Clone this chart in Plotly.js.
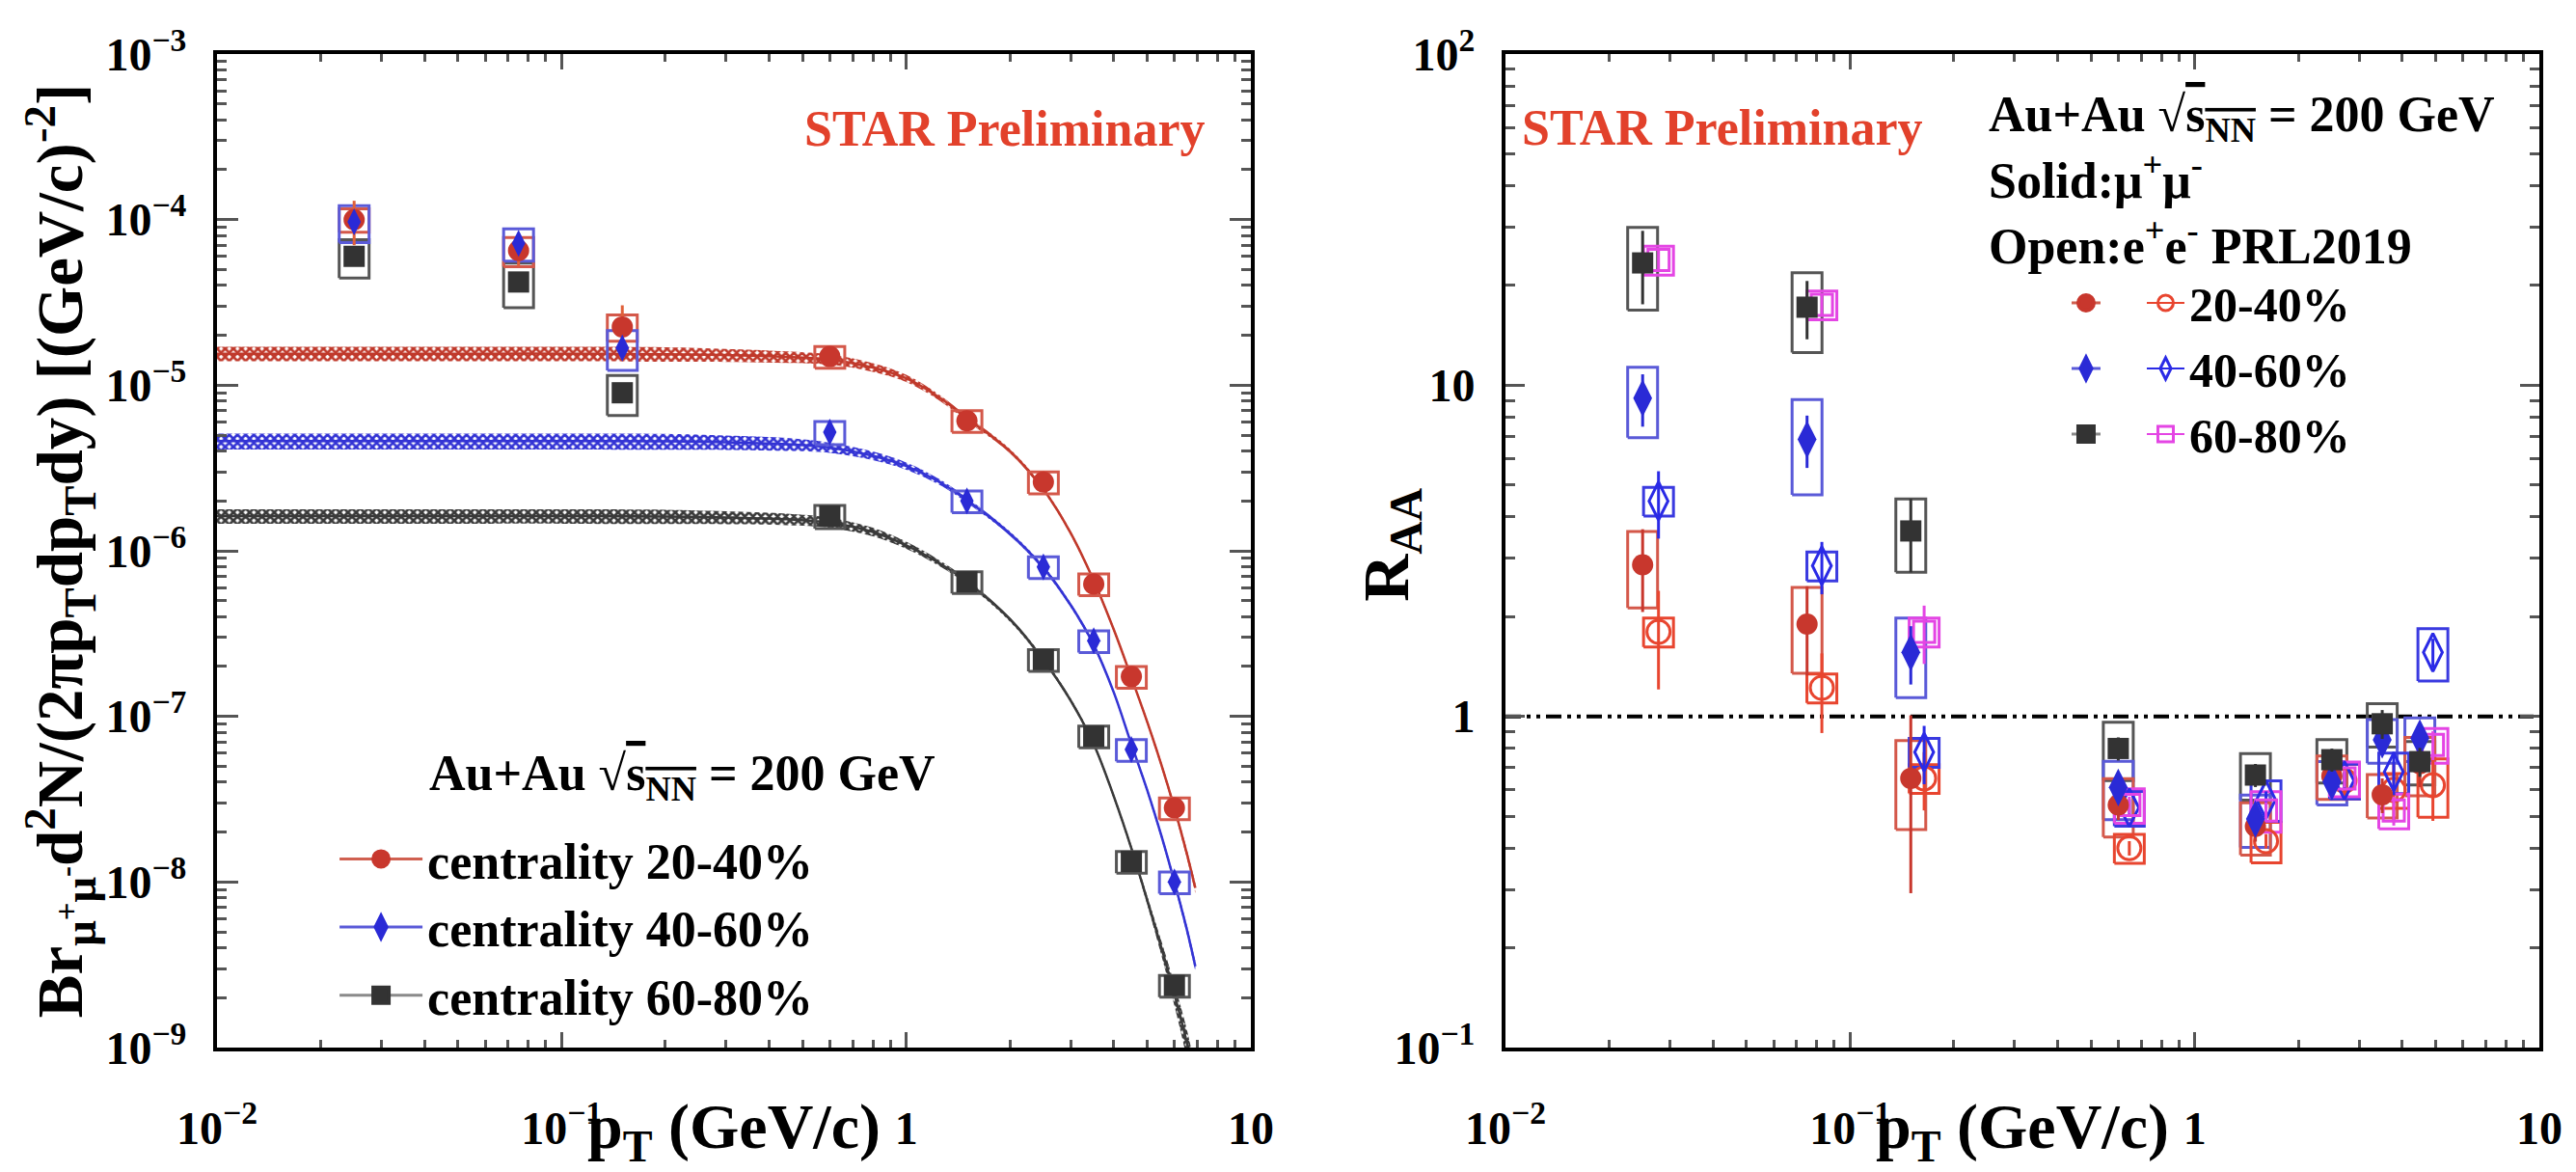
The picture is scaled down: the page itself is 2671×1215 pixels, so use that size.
<!DOCTYPE html>
<html><head><meta charset="utf-8">
<script src="https://cdn.plot.ly/plotly-3.0.1.min.js"></script>
<style>html,body{margin:0;padding:0;background:#fff}</style>
</head><body><div id="chart" style="width:2671px;height:1215px"></div>
<script>
// ---------------- Left panel: invariant yields ----------------
const ptSpec = [0.025, 0.075, 0.15, 0.6, 1.5, 2.5, 3.5, 4.5, 6.0];
const spec2040 = [1.0e-4, 6.5e-5, 2.25e-5, 1.49e-5, 6.1e-6, 2.6e-6, 6.3e-7, 1.74e-7, 2.8e-8];
const spec4060 = [9.7e-5, 7.2e-5, 1.68e-5, 5.2e-6, 2.0e-6, 8.0e-7, 2.86e-7, 6.3e-8, 1.0e-8];
const spec6080 = [6.0e-5, 4.2e-5, 9.0e-6, 1.62e-6, 6.5e-7, 2.2e-7, 7.6e-8, 1.33e-8, 2.37e-9];
const specStat2040 = [0.30, 0.20, 0.35, 0.05, 0.05, 0.05, 0.06, 0.06, 0.08];
const specStat4060 = [0.10, 0.10, 0.12, 0.06, 0.05, 0.05, 0.06, 0.06, 0.08];
const specStat6080 = [0.08, 0.08, 0.10, 0.05, 0.05, 0.05, 0.06, 0.06, 0.08];
const specSys2040 = [0.16, 0.20, 0.18, 0.15, 0.15, 0.15, 0.15, 0.15, 0.15];
const specSys4060 = [0.25, 0.22, 0.27, 0.16, 0.15, 0.15, 0.15, 0.15, 0.15];
const specSys6080 = [0.26, 0.30, 0.27, 0.16, 0.15, 0.15, 0.15, 0.15, 0.15];

// fit curves
const fitPt   = [0.01, 0.05, 0.1, 0.2, 0.3, 0.45, 0.6, 0.8, 1.0, 1.25, 1.5, 2.0, 2.5, 3.0, 3.5, 4.0, 4.5, 5.0, 5.5, 6.0, 6.5, 6.9];
const fit2040 = [1.55e-5, 1.55e-5, 1.55e-5, 1.54e-5, 1.52e-5, 1.48e-5, 1.43e-5, 1.28e-5, 1.1e-5, 8.4e-6, 6.3e-6, 4.0e-6, 2.35e-6, 1.28e-6, 6.6e-7, 3.35e-7, 1.72e-7, 9.3e-8, 5.1e-8, 2.8e-8, 1.52e-8, 9.2e-9];
const fit4060 = [4.6e-6, 4.6e-6, 4.6e-6, 4.58e-6, 4.52e-6, 4.4e-6, 4.2e-6, 3.75e-6, 3.25e-6, 2.6e-6, 2.02e-6, 1.27e-6, 7.9e-7, 4.7e-7, 2.7e-7, 1.4e-7, 6.8e-8, 3.6e-8, 1.9e-8, 1.0e-8, 5.3e-9, 3.1e-9];
const fit6080 = [1.62e-6, 1.62e-6, 1.62e-6, 1.61e-6, 1.59e-6, 1.55e-6, 1.48e-6, 1.3e-6, 1.08e-6, 8.4e-7, 6.5e-7, 3.85e-7, 2.2e-7, 1.25e-7, 6.8e-8, 3.3e-8, 1.6e-8, 7.8e-9, 4.0e-9, 2.1e-9, 1.1e-9, 6.0e-10];
const band2040 = [0.10, 0.10, 0.10, 0.10, 0.09, 0.08, 0.07, 0.06, 0.05, 0.04, 0.035, 0.03, 0.03, 0.03, 0.03, 0.03, 0.03, 0.035, 0.04, 0.05, 0.06, 0.07];
const band4060 = [0.11, 0.11, 0.11, 0.11, 0.10, 0.09, 0.07, 0.06, 0.05, 0.04, 0.035, 0.03, 0.03, 0.03, 0.03, 0.03, 0.03, 0.035, 0.04, 0.05, 0.06, 0.07];
const band6080 = [0.10, 0.10, 0.10, 0.10, 0.09, 0.08, 0.07, 0.06, 0.05, 0.04, 0.035, 0.03, 0.03, 0.03, 0.03, 0.035, 0.04, 0.06, 0.10, 0.15, 0.20, 0.25];

// ---------------- Right panel: R_AA ----------------
const ptRaa = [0.025, 0.075, 0.15, 0.6, 1.5, 2.5, 3.5, 4.5];
const raa2040 = [2.87, 1.90, 0.65, 0.54, 0.465, 0.66, 0.58, 0.72];
const raa4060 = [9.14, 6.86, 1.56, 0.61, 0.49, 0.635, 0.85, 0.86];
const raa6080 = [23.4, 17.2, 3.63, 0.80, 0.665, 0.74, 0.95, 0.73];
const raaStat2040 = [0.28, 0.30, 0.55, 0.10, 0.10, 0.10, 0.12, 0.15];
const raaStat4060 = [0.18, 0.18, 0.20, 0.08, 0.08, 0.08, 0.10, 0.10];
const raaStat6080 = [0.25, 0.20, 0.25, 0.08, 0.08, 0.08, 0.10, 0.10];
const raaSys2040 = [0.26, 0.29, 0.30, 0.20, 0.18, 0.15, 0.15, 0.20];
const raaSys4060 = [0.24, 0.32, 0.27, 0.20, 0.18, 0.15, 0.15, 0.15];
const raaSys6080 = [0.28, 0.27, 0.25, 0.20, 0.16, 0.15, 0.15, 0.15];

const ptEE = [0.0278, 0.0828, 0.164, 0.646, 1.61, 2.72, 3.78, 4.91];
const ee2040 = [1.80, 1.22, 0.65, 0.40, 0.42, 0.64, 0.60, 0.62];
const ee4060 = [4.47, 2.85, 0.78, 0.53, 0.56, 0.64, 0.68, 1.56];
const ee6080 = [23.9, 17.5, 1.80, 0.54, 0.52, 0.65, 0.52, 0.82];
const eeStat2040 = [0.33, 0.27, 0.20, 0.05, 0.05, 0.10, 0.20, 0.22];
const eeStat4060 = [0.23, 0.18, 0.20, 0.06, 0.06, 0.06, 0.15, 0.10];
const eeStat6080 = [0.08, 0.08, 0.20, 0.06, 0.06, 0.06, 0.10, 0.10];
const eeSys2040 = [0.10, 0.10, 0.10, 0.10, 0.14, 0.12, 0.12, 0.20];
const eeSys4060 = [0.10, 0.10, 0.10, 0.12, 0.14, 0.12, 0.14, 0.18];
const eeSys6080 = [0.10, 0.10, 0.10, 0.12, 0.14, 0.12, 0.12, 0.12];

const unityX = [0.01, 10];
const unityY = [1, 1];

const xTickVals = [0.01, 0.1, 1, 10];
const xTickText = ['10<sup>\u22122</sup>', '10<sup>\u22121</sup>', '1', '10'];
const yLTickVals = [1e-9, 1e-8, 1e-7, 1e-6, 1e-5, 1e-4, 1e-3];
const yLTickText = ['10<sup>\u22129</sup>', '10<sup>\u22128</sup>', '10<sup>\u22127</sup>', '10<sup>\u22126</sup>', '10<sup>\u22125</sup>', '10<sup>\u22124</sup>', '10<sup>\u22123</sup>'];
const yRTickVals = [0.1, 1, 10, 100];
const yRTickText = ['10<sup>\u22121</sup>', '1', '10', '10<sup>2</sup>'];

// ---------------- styling ----------------
const FONT = 'Liberation Serif, Times New Roman, serif';
const RED = '#c8372d', REDBOX = '#d4584a', REDOPEN = '#e8452f';
const BLUE = '#2a2ad6', BLUEBOX = '#5a5ad8';
const BLACK = '#333333', BLACKBOX = '#555555';
const MAG = '#e445e4';
const BOX_HALF_DEC = 0.0434; // half box width in decades of pT

function minorVals(lo, hi) { const v = []; for (let e = lo; e < hi; e++) for (let m = 2; m <= 9; m++) v.push(m * Math.pow(10, e)); return v; }
function boxPath(xs, ys, rel) {
  const f = Math.pow(10, BOX_HALF_DEC), bx = [], by = [];
  xs.forEach((x, i) => { const y0 = ys[i] * (1 - rel[i]), y1 = ys[i] * (1 + rel[i]);
    bx.push(x / f, x * f, x * f, x / f, x / f, null); by.push(y0, y0, y1, y1, y0, null); });
  return {bx, by};
}
const absErr = (v, r) => v.map((y, i) => y * r[i]);

const traces = [];
function addBand(x, y, rel, color, ax, ay) {
  traces.push({x, y: y.map((v, i) => v * (1 - rel[i])), mode: 'lines', line: {width: 0, shape: 'spline'}, xaxis: ax, yaxis: ay, showlegend: false, hoverinfo: 'skip'});
  traces.push({x, y: y.map((v, i) => v * (1 + rel[i])), mode: 'lines', line: {width: 0, shape: 'spline'}, fill: 'tonexty',
    fillcolor: 'rgba(255,255,255,0)', fillpattern: {shape: 'x', fgcolor: color, bgcolor: 'rgba(255,255,255,0)', size: 6, solidity: 0.7},
    xaxis: ax, yaxis: ay, showlegend: false, hoverinfo: 'skip'});
  traces.push({x, y, mode: 'lines', line: {color, width: 2.5, shape: 'spline'}, xaxis: ax, yaxis: ay, showlegend: false});
}
function addBoxes(x, y, rel, color, ax, ay, w) {
  const b = boxPath(x, y, rel);
  traces.push({x: b.bx, y: b.by, mode: 'lines', line: {color, width: w || 3}, xaxis: ax, yaxis: ay, showlegend: false, hoverinfo: 'skip', connectgaps: false});
}
function addPoints(x, y, stat, color, symbol, size, ax, ay, lineColor) {
  const mk = {symbol, size, color};
  if (symbol.indexOf('open') >= 0) mk.line = {color, width: 3};
  traces.push({x, y, mode: 'markers', marker: mk, xaxis: ax, yaxis: ay, showlegend: false,
    error_y: {type: 'data', array: absErr(y, stat), arrayminus: absErr(y, stat), color: lineColor || color, thickness: 3, width: 0}});
}

// left panel
addBand(fitPt, fit2040, band2040, '#c0392b', 'x', 'y');
addBand(fitPt, fit4060, band4060, '#3434d4', 'x', 'y');
addBand(fitPt, fit6080, band6080, '#3a3a3a', 'x', 'y');
addBoxes(ptSpec, spec6080, specSys6080, BLACKBOX, 'x', 'y');
addBoxes(ptSpec, spec2040, specSys2040, REDBOX, 'x', 'y');
addBoxes(ptSpec, spec4060, specSys4060, BLUEBOX, 'x', 'y');
addPoints(ptSpec, spec6080, specStat6080, BLACK, 'square', 22, 'x', 'y');
addPoints(ptSpec, spec2040, specStat2040, RED, 'circle', 22, 'x', 'y', '#e0603a');
addPoints(ptSpec, spec4060, specStat4060, BLUE, 'diamond-tall', 20, 'x', 'y');

// right panel
traces.push({x: unityX, y: unityY, mode: 'lines', line: {color: '#000', width: 4, dash: '16px,6px,4px,6px,4px,6px'}, xaxis: 'x2', yaxis: 'y2', showlegend: false, hoverinfo: 'skip'});
addBoxes(ptRaa, raa6080, raaSys6080, BLACKBOX, 'x2', 'y2');
addBoxes(ptRaa, raa4060, raaSys4060, BLUEBOX, 'x2', 'y2');
addBoxes(ptRaa, raa2040, raaSys2040, REDBOX, 'x2', 'y2');
addBoxes(ptEE, ee2040, eeSys2040, REDOPEN, 'x2', 'y2');
addBoxes(ptEE, ee4060, eeSys4060, '#3a3ae0', 'x2', 'y2');
addBoxes(ptEE, ee6080, eeSys6080, MAG, 'x2', 'y2');
addPoints(ptEE, ee2040, eeStat2040, REDOPEN, 'circle-open', 24, 'x2', 'y2');
addPoints(ptEE, ee4060, eeStat4060, '#2a2ae6', 'diamond-tall-open', 28, 'x2', 'y2');
addPoints(ptEE, ee6080, eeStat6080, MAG, 'square-open', 22, 'x2', 'y2');
addPoints(ptRaa, raa2040, raaStat2040, RED, 'circle', 22, 'x2', 'y2');
addPoints(ptRaa, raa4060, raaStat4060, BLUE, 'diamond-tall', 28, 'x2', 'y2');
addPoints(ptRaa, raa6080, raaStat6080, BLACK, 'square', 22, 'x2', 'y2');

// legend entries
const legL = [['centrality 20-40%', RED, '#d06050', 'circle'], ['centrality 40-60%', BLUE, '#5a5ad8', 'diamond-tall'], ['centrality 60-80%', BLACK, '#8a8a8a', 'square']];
legL.forEach(([n, c, lc, s]) => traces.push({x: [null], y: [null], name: n, mode: 'lines+markers', line: {color: lc, width: 3}, marker: {symbol: s, size: 22, color: c, line: {color: c, width: 4}}, xaxis: 'x', yaxis: 'y', legend: 'legend'}));
const legR1 = [[RED, '#d06050', 'circle'], [BLUE, '#5a5ad8', 'diamond-tall'], [BLACK, '#8a8a8a', 'square']];
legR1.forEach(([c, lc, s]) => traces.push({x: [null], y: [null], name: '\u00a0', mode: 'lines+markers', line: {color: lc, width: 3}, marker: {symbol: s, size: 22, color: c, line: {color: c, width: 4}}, xaxis: 'x2', yaxis: 'y2', legend: 'legend2'}));
const legR2 = [['20-40%', REDOPEN, 'circle-open'], ['40-60%', '#2a2ae6', 'diamond-tall-open'], ['60-80%', MAG, 'square-open']];
legR2.forEach(([n, c, s]) => traces.push({x: [null], y: [null], name: n, mode: 'lines+markers', line: {color: c, width: 2}, marker: {symbol: s, size: 22, color: c, line: {color: c, width: 3}}, xaxis: 'x2', yaxis: 'y2', legend: 'legend3'}));

const tf = (s) => ({family: FONT, size: s, color: '#000', weight: 'bold'});
const axisCommon = {type: 'log', showline: true, linecolor: '#000', linewidth: 4, mirror: 'allticks', ticks: 'inside', tickcolor: '#555', tickwidth: 3,
  showgrid: false, zeroline: false, tickfont: tf(48), tickmode: 'array'};
const xAxisBase = Object.assign({}, axisCommon, {range: [-2, 1], tickvals: xTickVals, ticktext: xTickText, ticklen: 16, ticklabelstandoff: 38,
  minor: {ticks: 'inside', ticklen: 8, tickwidth: 3, tickcolor: '#555', tickvals: minorVals(-2, 1), showgrid: false}});

const legendBase = {bgcolor: 'rgba(0,0,0,0)', borderwidth: 0, xanchor: 'left', yanchor: 'top', font: tf(52), itemclick: false, itemdoubleclick: false, traceorder: 'normal'};

const layout = {
  width: 2671, height: 1215, margin: {l: 225, r: 38, t: 56, b: 129, pad: 0},
  paper_bgcolor: '#fff', plot_bgcolor: '#fff', font: tf(48), showlegend: true,
  xaxis: Object.assign({}, xAxisBase, {domain: [0, 0.44518], anchor: 'y'}),
  xaxis2: Object.assign({}, xAxisBase, {domain: [0.55482, 1], anchor: 'y2'}),
  yaxis: Object.assign({}, axisCommon, {domain: [0, 1], anchor: 'x', range: [-9, -3], tickvals: yLTickVals, ticktext: yLTickText, ticklen: 22, ticklabelstandoff: 18,
    minor: {ticks: 'inside', ticklen: 10, tickwidth: 3, tickcolor: '#555', tickvals: minorVals(-9, -3), showgrid: false},
    title: {text: 'Br<sub>\u03bc<sup>+</sup>\u03bc<sup>-</sup></sub>d<sup>2</sup>N/(2\u03c0p<sub>T</sub>dp<sub>T</sub>dy) [(GeV/c)<sup>-2</sup>]', font: tf(67), standoff: 0}}),
  yaxis2: Object.assign({}, axisCommon, {domain: [0, 1], anchor: 'x2', range: [-1, 2], tickvals: yRTickVals, ticktext: yRTickText, ticklen: 20, ticklabelstandoff: 18,
    minor: {ticks: 'inside', ticklen: 10, tickwidth: 3, tickcolor: '#555', tickvals: minorVals(-1, 2), showgrid: false}}),
  legend: Object.assign({}, legendBase, {x: 0.0507, y: 0.229, itemwidth: 86}),
  legend2: Object.assign({}, legendBase, {x: 0.7965, y: 0.7874, font: tf(50)}),
  legend3: Object.assign({}, legendBase, {x: 0.8289, y: 0.7874, itemwidth: 39, font: tf(50)}),
  annotations: [
    {xref: 'x domain', yref: 'y domain', x: 0.958, y: 0.925, xanchor: 'right', yanchor: 'middle', showarrow: false, text: 'STAR Preliminary', font: Object.assign(tf(52), {color: '#e2412b'})},
    {xref: 'x domain', yref: 'y domain', x: 0.2034, y: 0.272, xanchor: 'left', yanchor: 'middle', showarrow: false, text: 'Au+Au \u221a<span style="text-decoration:overline">s<sub>NN</sub></span> = 200 GeV', font: tf(52)},
    {xref: 'x2 domain', yref: 'y2 domain', x: 0.014, y: 0.926, xanchor: 'left', yanchor: 'middle', showarrow: false, text: 'STAR Preliminary', font: Object.assign(tf(52), {color: '#e2412b'})},
    {xref: 'x2 domain', yref: 'y2 domain', x: 0.4655, y: 0.935, xanchor: 'left', yanchor: 'middle', showarrow: false, text: 'Au+Au \u221a<span style="text-decoration:overline">s<sub>NN</sub></span> = 200 GeV', font: tf(52)},
    {xref: 'x2 domain', yref: 'y2 domain', x: 0.4655, y: 0.876, xanchor: 'left', yanchor: 'middle', showarrow: false, text: 'Solid:\u03bc<sup>+</sup>\u03bc<sup>-</sup>', font: tf(52)},
    {xref: 'x2 domain', yref: 'y2 domain', x: 0.4655, y: 0.810, xanchor: 'left', yanchor: 'middle', showarrow: false, text: 'Open:e<sup>+</sup>e<sup>-</sup> PRL2019', font: tf(52)},
    {xref: 'paper', yref: 'y2 domain', x: 0.5054, y: 0.506, xanchor: 'center', yanchor: 'middle', textangle: -90, showarrow: false, text: 'R<sub>AA</sub>', font: tf(68)},
    {xref: 'x domain', yref: 'y domain', x: 0.5, y: -0.084, xanchor: 'center', yanchor: 'middle', showarrow: false, text: 'p<sub>T</sub> (GeV/c)', font: tf(66)},
    {xref: 'x2 domain', yref: 'y2 domain', x: 0.5, y: -0.084, xanchor: 'center', yanchor: 'middle', showarrow: false, text: 'p<sub>T</sub> (GeV/c)', font: tf(66)}
  ]
};

Plotly.newPlot('chart', traces, layout, {staticPlot: true, displayModeBar: false});
</script></body></html>
